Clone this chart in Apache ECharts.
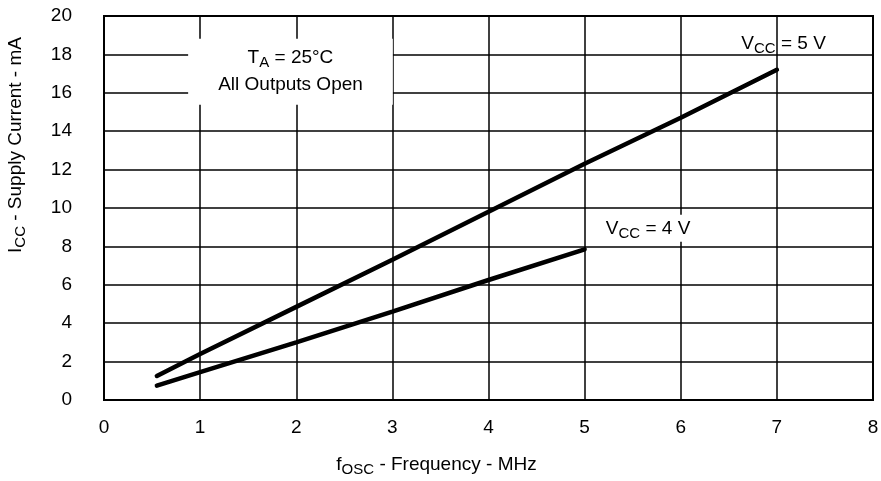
<!DOCTYPE html>
<html>
<head>
<meta charset="utf-8">
<script src="https://cdn.jsdelivr.net/npm/echarts@6/dist/echarts.min.js"></script>
<style>
  html, body { margin: 0; padding: 0; background: #fff; }
  #chart { width: 881px; height: 481px; }
</style>
</head>
<body>
<div id="chart"></div>
<script>
// data
const freq5 = [0.55, 1, 2, 3, 4, 5, 6, 7]
const icc5 = [1.25, 2.4, 4.85, 7.3, 9.8, 12.3, 14.7, 17.2]
const freq4 = [0.55, 1, 2, 3, 4, 5]
const icc4 = [0.75, 1.45, 3.0, 4.6, 6.25, 7.85]
const xTicks = [0, 1, 2, 3, 4, 5, 6, 7, 8]
const yTicks = [0, 2, 4, 6, 8, 10, 12, 14, 16, 18, 20]

const fontFam = '"Liberation Sans", Arial, Helvetica, sans-serif'
const chart = echarts.init(document.getElementById('chart'))

function pairs (xs, ys) {
  return xs.map((x, i) => [x, ys[i]])
}

// main text + subscript styles
const richText = {
  m: { fontSize: 19, color: '#000', fontFamily: fontFam },
  s: { fontSize: 15, color: '#000', fontFamily: fontFam, padding: [10, 0, 0, 0] },
}

const option = {
  animation: false,
  grid: {
    left: 104, right: 8, top: 16, bottom: 81,
    outerBoundsMode: 'none',
    containLabel: false,
    show: true, borderColor: '#000', borderWidth: 2,
  },
  xAxis: {
    type: 'value',
    min: xTicks[0],
    max: xTicks[xTicks.length - 1],
    interval: 1,
    name: '{m|f}{s|OSC}{m| - Frequency - MHz}',
    nameLocation: 'middle',
    nameGap: 52,
    nameTextStyle: { padding: [0, 104, 0, 0], rich: richText },
    axisLine: { show: false },
    axisTick: { show: false },
    axisLabel: { color: '#000', fontSize: 19, fontFamily: fontFam, margin: 18 },
    splitLine: { show: true, lineStyle: { color: '#000', width: 1.5 } },
  },
  yAxis: {
    type: 'value',
    min: yTicks[0],
    max: yTicks[yTicks.length - 1],
    interval: 2,
    name: '{m|I}{s|CC}{m| - Supply Current - mA}',
    nameLocation: 'middle',
    nameGap: 76,
    nameTextStyle: { padding: [0, 0, 0, 126], rich: richText },
    axisLine: { show: false },
    axisTick: { show: false },
    axisLabel: { color: '#000', fontSize: 19, fontFamily: fontFam, margin: 32 },
    splitLine: { show: true, lineStyle: { color: '#000', width: 1.5 } },
  },
  series: [
    {
      name: 'VCC = 5 V',
      type: 'line',
      data: pairs(freq5, icc5),
      symbol: 'none',
      lineStyle: { color: '#000', width: 4.5, cap: 'round' },
      z: 3,
    },
    {
      name: 'VCC = 4 V',
      type: 'line',
      data: pairs(freq4, icc4),
      symbol: 'none',
      lineStyle: { color: '#000', width: 4.5, cap: 'round' },
      z: 3,
    },
    {
      name: 'notes',
      type: 'scatter',
      symbolSize: 0,
      silent: true,
      z: 4,
      itemStyle: { opacity: 1 },
      label: {
        show: true,
        position: 'inside',
        color: '#000',
        opacity: 1,
        fontFamily: fontFam,
        fontSize: 19,
        rich: richText,
      },
      data: [
        {
          value: [1.94, 17.1],
          label: {
            formatter: '{m|T}{s|A}{m| = 25°C}\n{m|All Outputs Open}',
            align: 'center',
            lineHeight: 27,
            backgroundColor: '#fff',
            padding: [6, 30, 6, 30],
          },
        },
        {
          value: [7.07, 18.55],
          label: { formatter: '{m|V}{s|CC}{m| = 5 V}' },
        },
        {
          value: [5.66, 8.95],
          label: {
            formatter: '{m|V}{s|CC}{m| = 4 V}',
            backgroundColor: '#fff',
            padding: [2, 10, 0, 10],
          },
        },
      ],
    },
  ],
}
chart.setOption(option)
</script>
</body>
</html>
